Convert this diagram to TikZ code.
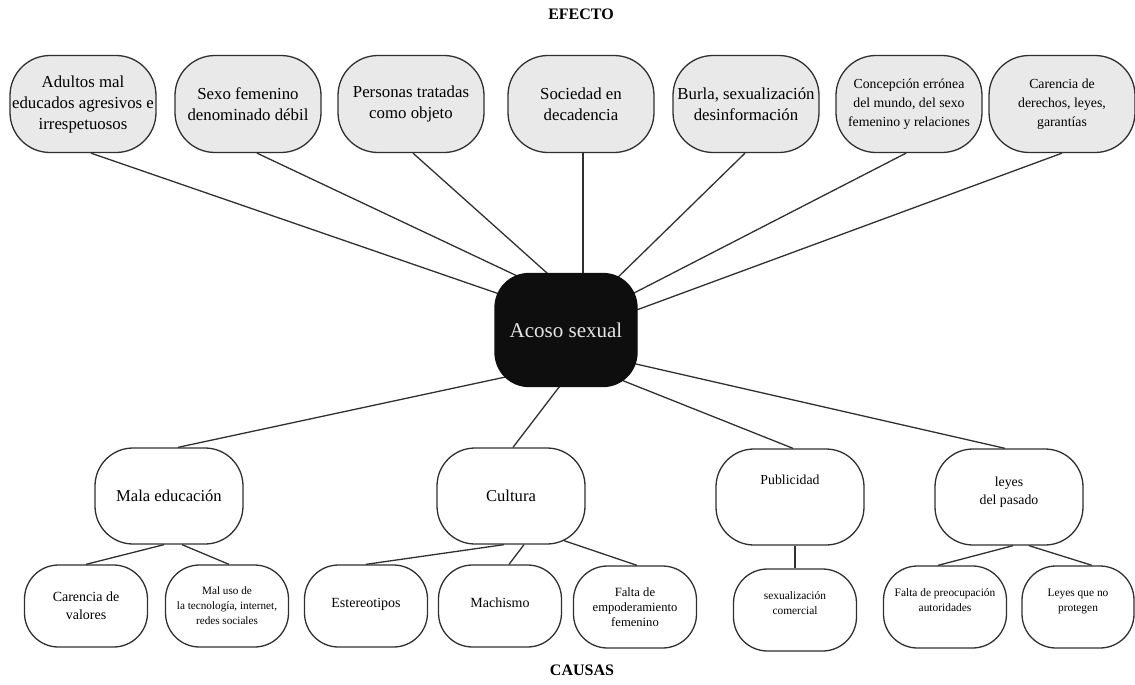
\documentclass[tikz,border=0pt]{standalone}
\usepackage{fontspec}
\setmainfont{Liberation Serif}
\usetikzlibrary{backgrounds}
\definecolor{EfectoGray}{HTML}{E9E9E9}
\definecolor{LineGray}{HTML}{303030}
\definecolor{CoreBlack}{HTML}{0E0E0E}

\begin{document}
\begin{tikzpicture}[
      x=0.5pt, y=-0.5pt,
      box/.style={draw=LineGray,line width=0.65pt,align=center,inner sep=0pt},
      efecto/.style={box,fill=EfectoGray,rounded corners=20pt,minimum width=73pt,minimum height=48.5pt,font=\fontsize{8.4}{10.5}\selectfont},
      efectosm/.style={efecto,font=\fontsize{6.9}{9.5}\selectfont},
      core/.style={box,fill=CoreBlack,draw=CoreBlack,text=white!90!black,rounded corners=17pt,minimum width=71pt,minimum height=56.5pt,font=\fontsize{10.5}{12}\selectfont},
      causa/.style={box,fill=white,rounded corners=19pt,minimum width=74pt,minimum height=48pt,font=\fontsize{8.3}{10}\selectfont},
      causasm/.style={causa,font=\fontsize{6.9}{9.2}\selectfont},
      sub/.style={box,fill=white,rounded corners=17pt,minimum width=61.5pt,minimum height=41pt,font=\fontsize{7}{9}\selectfont},
      subsm/.style={sub,font=\fontsize{5.7}{7.7}\selectfont,text depth=7pt},
      heading/.style={font=\fontsize{8}{9.6}\selectfont\bfseries},
      link/.style={draw=LineGray,line width=0.65pt}
    ]
      \useasboundingbox (0,0) rectangle (1135,685);

      \node[heading] (efecto) at (581,14) {EFECTO};
      \node[efecto] (adultos) at (83,104) {Adultos mal\\educados agresivos e\\irrespetuosos};
      \node[efecto] (debil) at (248,104) {Sexo femenino\\denominado débil};
      \node[efecto] (objeto) at (411,104) {Personas tratadas\\como objeto};
      \node[efecto] (sociedad) at (581,104) {Sociedad en\\decadencia};
      \node[efecto] (burla) at (746,104) {Burla, sexualización\\desinformación};
      \node[efectosm] (concepcion) at (909,104) {Concepción errónea\\del mundo, del sexo\\femenino y relaciones};
      \node[efectosm] (derechos) at (1062,104) {Carencia de\\derechos, leyes,\\garantías};

      \node[core] (acoso) at (566,330) {Acoso sexual};

      \node[causa] (mala) at (169,496) {Mala educación};
      \node[causa] (cultura) at (511,496) {Cultura};
      \node[causasm,text depth=17pt] (publicidad) at (790,497) {Publicidad};
      \node[causasm,text depth=6pt] (pasado) at (1009,497) {leyes\\del pasado};

      \node[sub] (valores) at (86,606) {Carencia de\\valores};
      \node[sub,font=\fontsize{5.6}{7.5}\selectfont] (maluso) at (227,606) {Mal uso de\\la tecnología, internet,\\redes sociales};
      \node[sub,text depth=3pt] (estereotipos) at (366,606) {Estereotipos};
      \node[sub,text depth=3pt] (machismo) at (500,606) {Machismo};
      \node[sub,font=\fontsize{6.3}{7.6}\selectfont] (empoderamiento) at (635,607) {Falta de\\empoderamiento\\femenino};
      \node[subsm] (comercial) at (795,610) {sexualización\\comercial};
      \node[subsm] (autoridades) at (945,607) {Falta de preocupación\\autoridades};
      \node[subsm,minimum width=56pt] (protegen) at (1078,607) {Leyes que no\\protegen};

      \node[heading] (causas) at (582,670) {CAUSAS};

      \begin{scope}[on background layer]
        \draw[link] ([xshift=4pt]adultos.south) -- ([yshift=6.5pt]acoso.center);
        \draw[link] ([xshift=4.5pt]debil.south) -- ([yshift=15.5pt]acoso.center);
        \draw[link] ([xshift=1pt]objeto.south) -- ([yshift=20pt]acoso.center);
        \draw[link] ([xshift=1pt]sociedad.south) -- ([xshift=1pt]sociedad.south |- acoso.center);
        \draw[link] ([xshift=-0.5pt]burla.south) -- ([yshift=1pt]acoso.center);
        \draw[link] ([xshift=-1.5pt]concepcion.south) -- ([yshift=1pt]acoso.center);
        \draw[link] (derechos.south) -- ([yshift=-3pt]acoso.center);

        \draw[link] ([yshift=-17pt]acoso.center) -- ([xshift=4.5pt]mala.north);
        \draw[link] ([yshift=-24pt]acoso.center) -- ([xshift=1pt]cultura.north);
        \draw[link] ([yshift=-14pt]acoso.center) -- ([xshift=1.5pt]publicidad.north);
        \draw[link] ([yshift=-9pt]acoso.center) -- ([xshift=-2pt]pasado.north);
      \end{scope}

      \draw[link] ([xshift=-2.5pt]mala.south) -- (valores.north);
      \draw[link] ([xshift=6.5pt]mala.south) -- ([xshift=1pt]maluso.north);
      \draw[link] ([xshift=-3.5pt]cultura.south) -- (estereotipos.north);
      \draw[link] ([xshift=6.5pt]cultura.south) -- ([xshift=4.5pt]machismo.north);
      \draw[link] ([xshift=26.5pt,yshift=2pt]cultura.south) -- ([xshift=1pt]empoderamiento.north);
      \draw[link] ([xshift=2.5pt]publicidad.south) -- (comercial.north);
      \draw[link] ([xshift=2pt]pasado.south) -- ([xshift=-3.5pt]autoridades.north);
      \draw[link] ([xshift=10pt]pasado.south) -- ([xshift=7pt]protegen.north);
    \end{tikzpicture}
\end{document}
